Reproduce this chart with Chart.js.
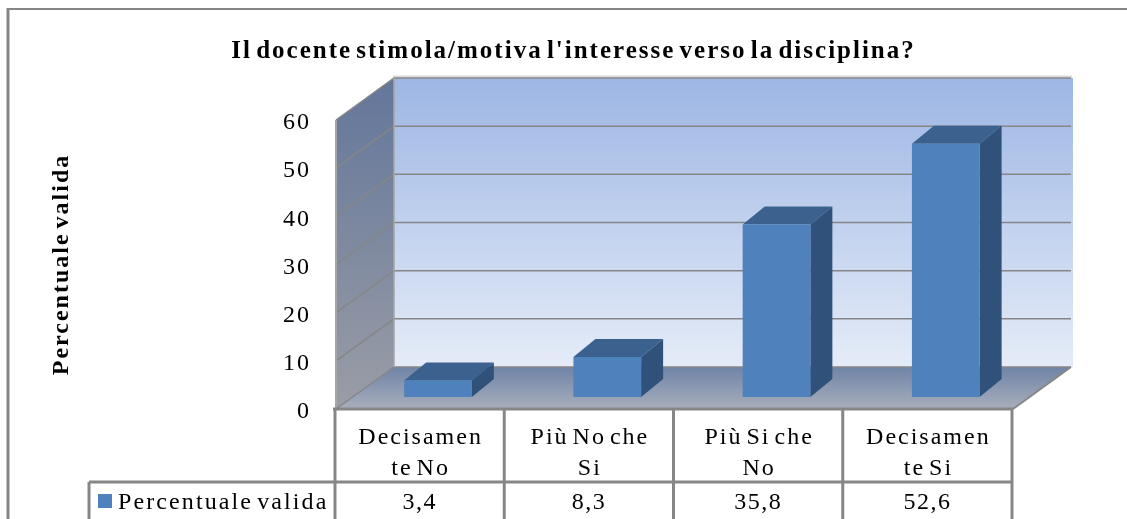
<!DOCTYPE html>
<html><head><meta charset="utf-8">
<style>html,body{margin:0;padding:0;background:#fff}canvas{display:block}</style>
<script src="https://cdn.jsdelivr.net/npm/chart.js@4"></script></head>
<body><canvas id="c" width="1127" height="519"></canvas>
<script>
const categories = [["Decisamen","te No"],["Più No che","Si"],["Più Si che","No"],["Decisamen","te Si"]];
const seriesName = "Percentuale valida";
const values = [3.4, 8.3, 35.8, 52.6];
const valueLabels = ["3,4","8,3","35,8","52,6"];
const chartTitle = "Il docente stimola/motiva l'interesse verso la disciplina?";

const FONT = '"Liberation Serif", serif';
const GRID = '#868686';
const WALL = {dx:58, dy:42};     // depth of the 3D box
const BAR = {dx:22, dy:18, ox:17.4, oy:-12}; // depth of bars and their shift into the box

function poly(ctx, pts, fill){
  ctx.beginPath(); pts.forEach((p,i)=> i?ctx.lineTo(p[0],p[1]):ctx.moveTo(p[0],p[1]));
  ctx.closePath(); ctx.fillStyle = fill; ctx.fill();
}
function vgrad(ctx, y0, y1, c0, c1){
  const g = ctx.createLinearGradient(0,y0,0,y1); g.addColorStop(0,c0); g.addColorStop(1,c1); return g;
}
function line(ctx, x0,y0,x1,y1,w,col){
  ctx.beginPath(); ctx.moveTo(x0,y0); ctx.lineTo(x1,y1); ctx.lineWidth=w; ctx.strokeStyle=col; ctx.stroke();
}

const box3d = {
  id:'box3d',
  beforeDraw(chart){
    const ctx = chart.ctx, a = chart.chartArea, {dx,dy} = WALL;
    ctx.letterSpacing = '2px';
    ctx.wordSpacing = '-4px';
    const L=a.left,R=a.right,T=a.top,B=a.bottom;
    // outer frame
    line(ctx,8,9,1127,9,2,'#868686');
    line(ctx,8,8,8,519,3,'#868686');
    // back wall
    line(ctx,L+dx-1,T-dy-1.5,R+dx+1,T-dy-1.5,2,'#d9d9d9');
    poly(ctx,[[L+dx,T-dy],[R+dx+2,T-dy],[R+dx+2,B-dy],[L+dx,B-dy]],vgrad(ctx,T-dy,B-dy,'#9DB6E4','#E5ECF8'));
    // side wall
    poly(ctx,[[L,T],[L+dx,T-dy],[L+dx,B-dy],[L,B]],vgrad(ctx,T-dy,B,'#63769A','#9A9DA6'));
    // floor
    poly(ctx,[[L,B],[L+dx,B-dy],[R+dx,B-dy],[R,B]],vgrad(ctx,B-dy,B,'#6F84A6','#A9AEBC'));
    // grid lines from the y scale
    const ys = chart.scales.y;
    ys.ticks.forEach((t,i)=>{
      const y = ys.getPixelForTick(i);
      ctx.beginPath(); ctx.moveTo(L,y); ctx.lineTo(L+dx,y-dy); ctx.lineTo(R+dx,y-dy);
      ctx.lineWidth=1.5; ctx.strokeStyle=GRID; ctx.stroke();
    });
    line(ctx,L+dx,T-dy,L+dx,B-dy,1.5,'#A6A6A6');
    line(ctx,L,T,L,B,2,'#A6A6A6');
    line(ctx,R,B,R+dx,B-dy,2,GRID);
  },
  beforeDatasetsDraw(chart){
    const ctx = chart.ctx;
    ctx.save();
    ctx.translate(BAR.ox,BAR.oy);
    chart.getDatasetMeta(0).data.forEach(el=>{
      const l=el.x-el.width/2, r=el.x+el.width/2, t=el.y, b=el.base, {dx,dy}=BAR;
      poly(ctx,[[l,t],[l+dx,t-dy],[r+dx,t-dy],[r,t]],'#3B628F');
      poly(ctx,[[r,t],[r+dx,t-dy],[r+dx,b-dy],[r,b]],'#30527A');
    });
  },
  afterDatasetsDraw(chart){ chart.ctx.restore(); },
  afterDraw(chart){
    const ctx = chart.ctx, a = chart.chartArea, xs = chart.scales.x;
    const rowY = 482;
    line(ctx,a.left-3,a.bottom,a.right,a.bottom,3,GRID);
    line(ctx,89,rowY,a.right,rowY,3,GRID);
    line(ctx,89,rowY,89,519,3,GRID);
    const edges = values.map((_,i)=>xs.getPixelForValue(i)-xs.width/values.length/2);
    edges.push(a.right);
    edges.forEach(x=>line(ctx,x-1,a.bottom,x-1,519,3,GRID));
    ctx.textBaseline='middle'; ctx.fillStyle='#000';
    ctx.font='24px '+FONT; ctx.textAlign='center';
    ctx.letterSpacing='1.5px';
    values.forEach((_,i)=>ctx.fillText(valueLabels[i],xs.getPixelForValue(i)-1,503));
    ctx.fillStyle='#4F81BD'; ctx.fillRect(98,494,14,14);
    ctx.fillStyle='#000'; ctx.textAlign='left';
    ctx.letterSpacing='2.1px';
    ctx.fillText(seriesName,118,503);
  }
};

new Chart(document.getElementById('c'),{
  type:'bar',
  data:{labels:categories,datasets:[{label:seriesName,data:values,backgroundColor:'#4F81BD',
    barPercentage:0.4,categoryPercentage:1,clip:false}]},
  plugins:[box3d],
  options:{
    responsive:false,animation:false,
    layout:{padding:{left:20,right:0,top:0,bottom:0}},
    plugins:{
      legend:{display:false},tooltip:{enabled:false},
      title:{display:true,text:chartTitle,color:'#000',
        font:{family:FONT,size:25,weight:'bold',lineHeight:1.2},
        padding:{top:37,bottom:53}}
    },
    scales:{
      x:{type:'category',offset:true,
        grid:{display:false,drawTicks:false},border:{display:false},
        ticks:{color:'#000',font:{family:FONT,size:24,lineHeight:1.3},padding:13,maxRotation:0,autoSkip:false},
        afterFit(s){s.height=110;}},
      y:{type:'linear',min:0,max:60,
        grid:{display:false,drawTicks:false},border:{display:false},
        ticks:{stepSize:10,color:'#000',font:{family:FONT,size:24},padding:25,labelOffset:3},
        title:{display:true,text:seriesName,color:'#000',font:{family:FONT,size:24,weight:'bold'},padding:{top:27,bottom:0}},
        afterFit(s){s.width=316;}},
      yR:{type:'linear',position:'right',display:true,min:0,max:60,
        grid:{display:false,drawTicks:false},border:{display:false},
        ticks:{display:false},
        afterFit(s){s.width=114;}}
    }
  }
});
</script></body></html>
